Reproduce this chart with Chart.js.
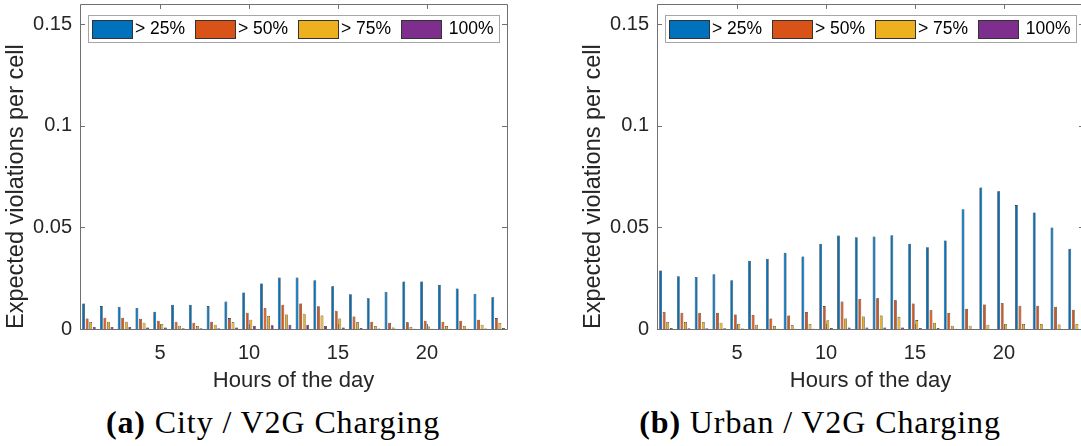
<!DOCTYPE html>
<html>
<head>
<meta charset="utf-8">
<script src="https://cdn.jsdelivr.net/npm/chart.js@4.4.1/dist/chart.umd.min.js"></script>
<style>
  body { margin: 0; background: #fff; width: 1081px; height: 446px; overflow: hidden; position: relative; }
  canvas { position: absolute; top: 0; }
  .cap { position: absolute; top: 406px; width: 500px; text-align: center; font-family: "Liberation Serif", serif;
         font-size: 32px; line-height: 1; letter-spacing: 0.9px; color: #000; }
</style>
</head>
<body>
<canvas id="cityChart" width="540" height="400" style="left:0"></canvas>
<canvas id="urbanChart" width="540" height="400" style="left:577px"></canvas>
<div class="cap" style="left:23px"><b>(a)</b> City / V2G Charging</div>
<div class="cap" style="left:570px"><b>(b)</b> Urban / V2G Charging</div>

<script>
// hours on the x axis
var hours = ['1','2','3','4','5','6','7','8','9','10','11','12','13','14','15','16','17','18','19','20','21','22','23','24'];
var seriesNames = ['> 25%', '> 50%', '> 75%', ' 100%'];
var yTicks = [0, 0.05, 0.1, 0.15];

// City / V2G
var city25 = [0.0125,0.0113,0.011,0.0104,0.0085,0.012,0.012,0.0113,0.0135,0.018,0.0224,0.0253,0.0253,0.024,0.021,0.0171,0.0151,0.0184,0.0234,0.0234,0.0217,0.02,0.0174,0.0156];
var city50 = [0.0052,0.0056,0.0056,0.0051,0.0041,0.0036,0.0031,0.0036,0.0054,0.008,0.0102,0.012,0.0125,0.0112,0.009,0.0062,0.0036,0.0031,0.0033,0.0041,0.0036,0.0041,0.0046,0.0054];
var city75 = [0.0035,0.0036,0.0036,0.0031,0.0025,0.0016,0.0015,0.0021,0.0033,0.0046,0.0064,0.0072,0.0075,0.0066,0.0052,0.0033,0.0015,0.0007,0.001,0.0012,0.0015,0.0015,0.0021,0.003];
var city100 = [0.001,0.001,0.001,0.0007,0.0007,0.0004,0.0004,0.0004,0.0007,0.0015,0.0018,0.0021,0.0021,0.0015,0.0007,0.0005,0.0002,0.0001,0.0001,0.0001,0.0001,0.0001,0.0003,0.0005];

// Urban / V2G
var urban25 = [0.0288,0.026,0.0256,0.027,0.024,0.0336,0.0346,0.0375,0.0357,0.042,0.046,0.0452,0.0455,0.0462,0.042,0.0403,0.0436,0.059,0.0697,0.0678,0.061,0.0574,0.05,0.0395];
var urban50 = [0.0084,0.008,0.008,0.008,0.0072,0.0069,0.0052,0.0066,0.0084,0.0113,0.0135,0.0148,0.0151,0.0141,0.0125,0.0092,0.0079,0.01,0.0121,0.0128,0.0115,0.0115,0.011,0.0095];
var urban75 = [0.0035,0.0035,0.0035,0.0031,0.0025,0.0021,0.0015,0.0018,0.0025,0.0043,0.0052,0.0062,0.0066,0.006,0.0044,0.0031,0.0016,0.0016,0.0021,0.0025,0.0025,0.0025,0.0022,0.0025];
var urban100 = [0.0005,0.0004,0.0004,0.0004,0.0003,0.0001,0.0001,0.0001,0.0001,0.0005,0.0007,0.0007,0.0007,0.0007,0.0005,0.0005,0.0001,0,0,0,0,0,0,0];

var colors = ['#0072BD', '#D95319', '#EDB120', '#7E2F8E'];
var textColor = '#262626';

Chart.defaults.font.family = '"Liberation Sans", Arial, sans-serif';
Chart.defaults.color = textColor;

// matlab style box with ticks pointing inside
var framePlugin = {
    id: 'frame',
    afterDraw: function (chart) {
        var ctx = chart.ctx, a = chart.chartArea;
        var x = chart.scales.x, y = chart.scales.y;
        ctx.save();
        ctx.strokeStyle = '#707070';
        ctx.lineWidth = 1;
        ctx.beginPath();
        ctx.rect(Math.round(a.left) + 0.5, Math.round(a.top) + 0.5, Math.round(a.right - a.left), Math.round(a.bottom - a.top));
        yTicks.forEach(function (v) {
            var py = Math.round(y.getPixelForValue(v)) + 0.5;
            ctx.moveTo(a.left, py); ctx.lineTo(a.left + 5, py);
            ctx.moveTo(a.right, py); ctx.lineTo(a.right - 5, py);
        });
        hours.forEach(function (h, i) {
            if (+h % 5 !== 0) return;
            var px = Math.round(x.getPixelForValue(i)) + 0.5;
            ctx.moveTo(px, a.bottom); ctx.lineTo(px, a.bottom - 5);
            ctx.moveTo(px, a.top); ctx.lineTo(px, a.top + 5);
        });
        ctx.stroke();
        ctx.restore();
    }
};

// legend box inside the axes, one row
var legendPlugin = {
    id: 'insideLegend',
    afterDraw: function (chart) {
        var ctx = chart.ctx, a = chart.chartArea;
        var x0 = a.left + 8, y0 = a.top + 11, w = 411, h = 27;
        ctx.save();
        ctx.fillStyle = '#fff';
        ctx.fillRect(x0, y0, w, h);
        ctx.strokeStyle = '#a6a6a6';
        ctx.strokeRect(x0 + 0.5, y0 + 0.5, w, h);
        ctx.font = '17.5px "Liberation Sans", Arial, sans-serif';
        ctx.textBaseline = 'middle';
        chart.data.datasets.forEach(function (ds, i) {
            var bx = x0 + 4 + i * 103;
            ctx.fillStyle = ds.backgroundColor;
            ctx.fillRect(bx, y0 + 5, 40, 18);
            ctx.strokeStyle = '#333';
            ctx.strokeRect(bx + 0.5, y0 + 5.5, 40, 18);
            ctx.fillStyle = '#000';
            ctx.fillText(ds.label, bx + 43, y0 + h / 2 + 1);
        });
        ctx.restore();
    }
};

function makeChart(id, series) {
    var datasets = [];
    for (var i = 0; i < series.length; i++) {
        datasets.push({
            label: seriesNames[i],
            data: series[i],
            backgroundColor: colors[i],
            borderColor: '#1a1a1a',
            borderWidth: 0.6,
            categoryPercentage: 0.8,
            barPercentage: 0.8
        });
    }
    return new Chart(document.getElementById(id), {
        type: 'bar',
        data: { labels: hours, datasets: datasets },
        plugins: [framePlugin, legendPlugin],
        options: {
            responsive: false,
            animation: false,
            devicePixelRatio: 1,
            layout: { padding: { top: 4, right: 33, left: 0, bottom: 0 } },
            plugins: { legend: { display: false }, tooltip: { enabled: false } },
            scales: {
                x: {
                    grid: { display: false, drawTicks: false },
                    border: { display: false },
                    ticks: {
                        autoSkip: false, maxRotation: 0, padding: 12,
                        font: { size: 20 }, color: textColor,
                        callback: function (v) {
                            var l = this.getLabelForValue(v);
                            return +l % 5 === 0 ? l : '';
                        }
                    },
                    title: { display: true, text: 'Hours of the day', font: { size: 22 }, color: textColor, padding: { top: 0, bottom: 6 } },
                    afterFit: function (s) { s.height = 400 - 329; s.paddingLeft = 0; s.paddingRight = 0; }
                },
                y: {
                    min: 0, max: 0.16,
                    grid: { display: false, drawTicks: false },
                    border: { display: false },
                    ticks: { padding: 8, font: { size: 20 }, color: textColor, callback: function (v) { return String(v); } },
                    afterBuildTicks: function (s) { s.ticks = yTicks.map(function (v) { return { value: v }; }); },
                    title: { display: true, align: 'start', text: 'Expected violations per cell', font: { size: 23.5 }, color: textColor, padding: { top: 2, bottom: 0 } },
                    afterFit: function (s) { s.width = 80; s.paddingTop = 0; s.paddingBottom = 0; }
                }
            }
        }
    });
}

makeChart('cityChart', [city25, city50, city75, city100]);
makeChart('urbanChart', [urban25, urban50, urban75, urban100]);
</script>
</body>
</html>
